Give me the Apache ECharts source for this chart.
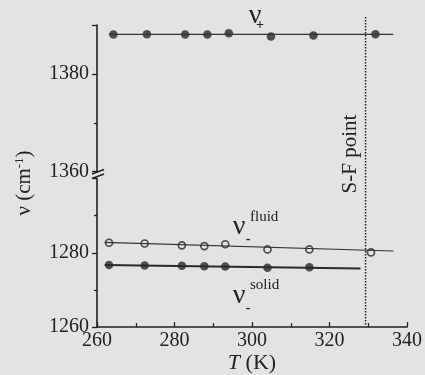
<!DOCTYPE html>
<html><head><meta charset="utf-8">
<script src="https://cdn.jsdelivr.net/npm/echarts@6/dist/echarts.min.js"></script>
<style>html,body{margin:0;padding:0;background:#e3e3e3}#c{width:425px;height:375px}</style>
</head><body><div id="c"></div>
<script>
// ---- data ----
const plusTemps   = [264.2, 272.8, 282.6, 288.3, 293.8, 304.6, 315.5, 331.4];
const plusValues  = [1388.05, 1388.1, 1388.05, 1388.05, 1388.3, 1387.65, 1387.85, 1388.1];
const fluidTemps  = [263.1, 272.3, 281.9, 287.7, 293.1, 304.0, 314.8, 330.7];
const fluidValues = [1282.7, 1282.5, 1282.0, 1281.8, 1282.3, 1280.9, 1280.9, 1280.1];
const solidTemps  = [263.1, 272.3, 281.9, 287.7, 293.1, 304.0, 314.8];
const solidValues = [1276.7, 1276.6, 1276.5, 1276.4, 1276.3, 1276.0, 1276.1];
const plusFitT  = [263, 336];   const plusFitV  = [1388.1, 1388.1];
const fluidFitT = [262, 336.5]; const fluidFitV = [1282.8, 1280.5];
const solidFitT = [262, 328];   const solidFitV = [1276.7, 1275.8];
const sfPointT = 329.3;
const sfLineV = [1260.7, 1343.8];
const xTickLabels = [260, 280, 300, 320, 340];
const upperTickLabels = [1360, 1380];
const lowerTickLabels = [1260, 1280];

const zip = (a, b) => a.map((v, i) => [v, b[i]]);
const serif = "'Liberation Serif', 'Times New Roman', serif";
const ink = '#222';
const bg = '#e3e3e3';

const chart = echarts.init(document.getElementById('c'), null, {renderer: 'canvas'});

const yBase = {
  type: 'value', splitLine: {show: false},
  axisLine: {show: true, lineStyle: {color: ink, width: 1.6}},
  axisTick: {show: true, length: 5, lineStyle: {color: ink, width: 1.3}},
  minorTick: {show: true, splitNumber: 2, length: 3, lineStyle: {color: ink, width: 1.3}},
};
const ctr = {align: 'center', verticalAlign: 'middle', textAlign: 'center', textVerticalAlign: 'middle', fill: ink};

const option = {
  backgroundColor: bg,
  animation: false,
  grid: [
    {left: 97, right: 16, top: 25, height: 146.7},
    {left: 97, right: 16, top: 178.5, height: 152.2}
  ],
  xAxis: [
    {gridIndex: 0, type: 'value', min: 260, max: 340, interval: 20, show: false},
    {gridIndex: 1, type: 'value', min: 260, max: 340, interval: 20,
     splitLine: {show: false},
     axisLine: {show: true, lineStyle: {color: ink, width: 1.6}},
     axisTick: {show: true, inside: true, length: 5, lineStyle: {color: ink, width: 1.3}},
     minorTick: {show: true, splitNumber: 2, length: 4, lineStyle: {color: ink, width: 1.3}},
     axisLabel: {fontFamily: serif, fontSize: 20, color: ink, margin: 4,
       formatter: v => xTickLabels.includes(v) ? String(v) : ''},
     name: '{i|T} (K)', nameLocation: 'middle', nameGap: 20,
     nameTextStyle: {fontFamily: serif, fontSize: 22, color: ink,
       rich: {i: {fontFamily: serif, fontSize: 22, fontStyle: 'italic', color: ink}}}}
  ],
  yAxis: [
    Object.assign({}, yBase, {gridIndex: 0, min: 1360, max: 1390, interval: 20,
      axisLabel: {fontFamily: serif, fontSize: 20, color: ink, margin: 8,
        formatter: v => upperTickLabels.includes(v) ? String(v) : ''}}),
    Object.assign({}, yBase, {gridIndex: 1, min: 1260, max: 1300, interval: 20,
      axisLabel: {fontFamily: serif, fontSize: 20, color: ink, margin: 8,
        formatter: v => lowerTickLabels.includes(v) ? String(v) : ''}})
  ],
  series: [
    {type: 'line', xAxisIndex: 1, yAxisIndex: 1, data: zip([sfPointT, sfPointT], sfLineV),
     showSymbol: false, clip: false, silent: true,
     lineStyle: {color: ink, width: 1.5, type: [1.5, 1.5]}},
    {type: 'line', xAxisIndex: 0, yAxisIndex: 0, data: zip(plusFitT, plusFitV),
     showSymbol: false, silent: true, lineStyle: {color: '#333', width: 1.2}},
    {type: 'line', xAxisIndex: 1, yAxisIndex: 1, data: zip(fluidFitT, fluidFitV),
     showSymbol: false, silent: true, lineStyle: {color: '#333', width: 1.1}},
    {type: 'line', xAxisIndex: 1, yAxisIndex: 1, data: zip(solidFitT, solidFitV),
     showSymbol: false, silent: true, lineStyle: {color: '#2a2a2a', width: 2}},
    {type: 'scatter', xAxisIndex: 0, yAxisIndex: 0, data: zip(plusTemps, plusValues),
     symbol: 'circle', symbolSize: 8.5, itemStyle: {color: '#282828'}},
    {type: 'scatter', xAxisIndex: 1, yAxisIndex: 1, data: zip(fluidTemps, fluidValues),
     symbol: 'circle', symbolSize: 7, itemStyle: {color: bg, borderColor: '#282828', borderWidth: 1.7}},
    {type: 'scatter', xAxisIndex: 1, yAxisIndex: 1, data: zip(solidTemps, solidValues),
     symbol: 'circle', symbolSize: 8.5, itemStyle: {color: '#282828'}}
  ],
  graphic: [
    // axis break marks
    {type: 'line', shape: {x1: 92, y1: 174, x2: 104, y2: 169.5}, style: {stroke: ink, lineWidth: 1.4}, z: 100},
    {type: 'line', shape: {x1: 92, y1: 178.5, x2: 104, y2: 174}, style: {stroke: ink, lineWidth: 1.4}, z: 100},
    // y axis title
    {type: 'text', x: 24, y: 183, rotation: Math.PI / 2, z: 100,
     style: Object.assign({}, ctr, {text: '{a|ν (cm}{s|-1}{a|)}',
       rich: {a: {fontFamily: serif, fontSize: 21, fill: ink, color: ink},
              s: {fontFamily: serif, fontSize: 13, fill: ink, color: ink, verticalAlign: 'top'}}})},
    // S-F point
    {type: 'text', x: 350, y: 154, rotation: Math.PI / 2, z: 100,
     style: Object.assign({}, ctr, {text: 'S-F point', font: "21px " + serif})},
    // nu+ label
    {type: 'text', x: 255, y: 16, z: 100, style: Object.assign({}, ctr, {text: 'ν', font: "28px " + serif})},
    {type: 'text', x: 260, y: 25, z: 100, style: Object.assign({}, ctr, {text: '+', font: "bold 14px " + serif})},
    // nu- fluid
    {type: 'text', x: 239, y: 227, z: 100, style: Object.assign({}, ctr, {text: 'ν', font: "28px " + serif})},
    {type: 'text', x: 250, y: 217, z: 100,
     style: {text: 'fluid', font: "15px " + serif, fill: ink, align: 'left', verticalAlign: 'middle', textAlign: 'left', textVerticalAlign: 'middle'}},
    {type: 'text', x: 248, y: 239, z: 100, style: Object.assign({}, ctr, {text: '-', font: "bold 14px " + serif})},
    // nu- solid
    {type: 'text', x: 239, y: 296, z: 100, style: Object.assign({}, ctr, {text: 'ν', font: "28px " + serif})},
    {type: 'text', x: 250, y: 285, z: 100,
     style: {text: 'solid', font: "15px " + serif, fill: ink, align: 'left', verticalAlign: 'middle', textAlign: 'left', textVerticalAlign: 'middle'}},
    {type: 'text', x: 248, y: 308, z: 100, style: Object.assign({}, ctr, {text: '-', font: "bold 14px " + serif})}
  ]
};
chart.setOption(option);
</script>
</body></html>
